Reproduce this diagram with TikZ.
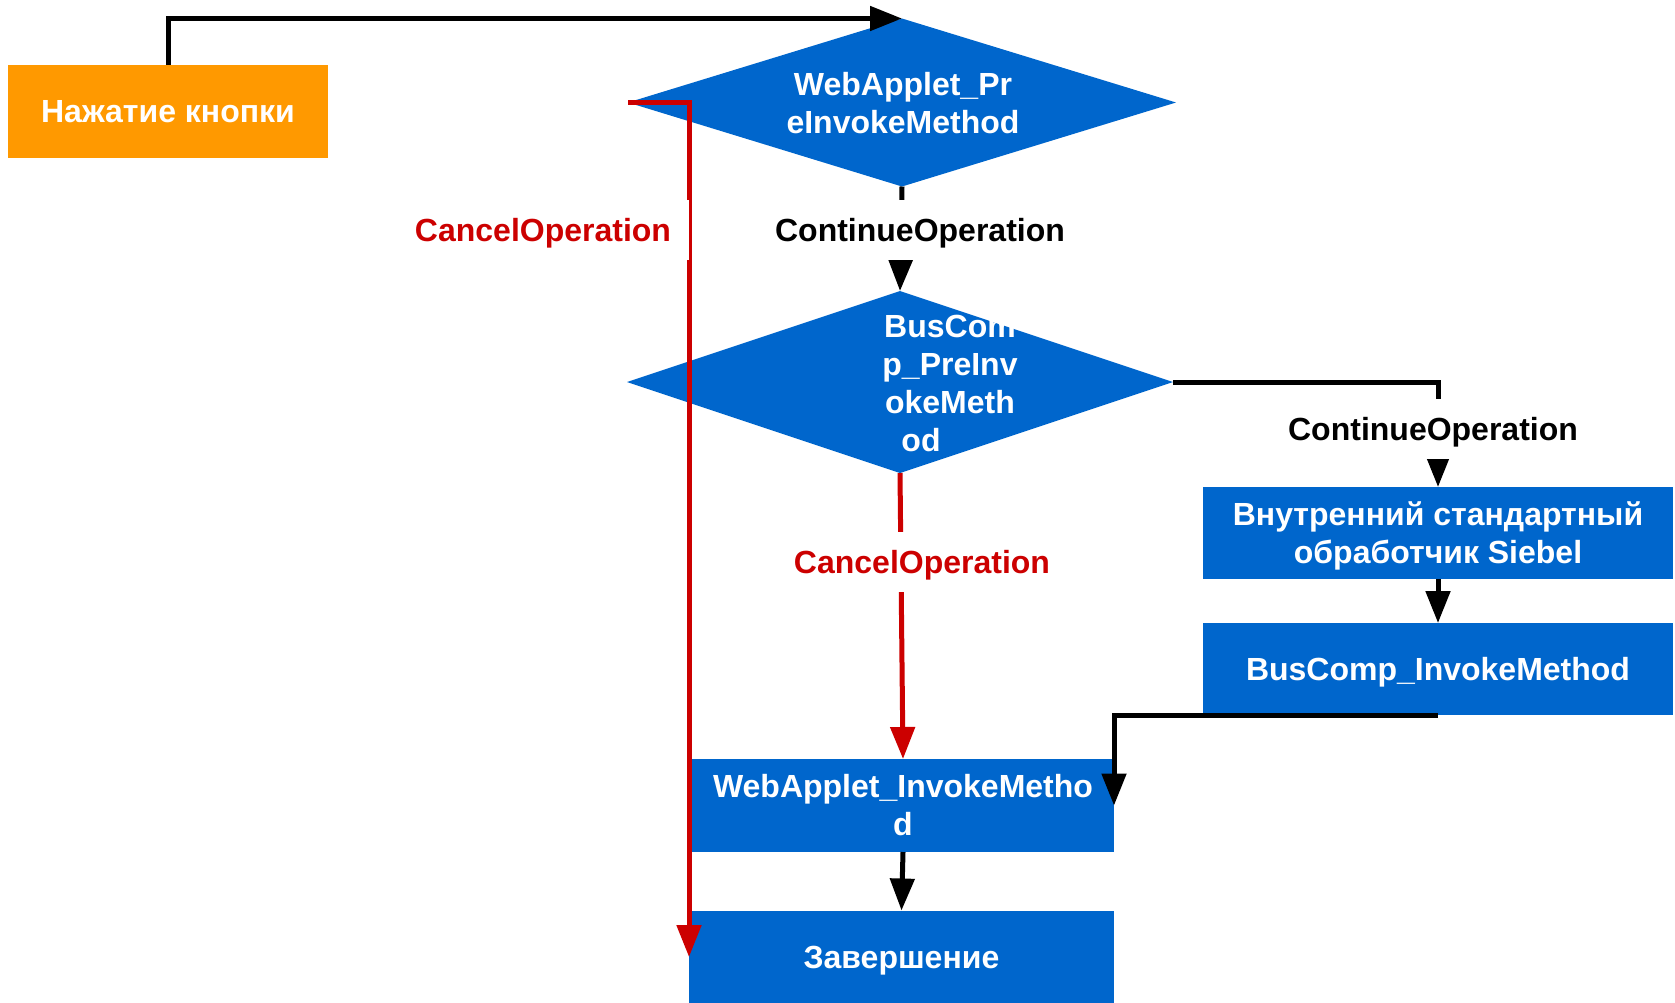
\documentclass[tikz,border=0pt]{standalone}
\usepackage{fontspec}
\setmainfont{Liberation Sans}
\usetikzlibrary{shapes.geometric,arrows.meta}
\definecolor{fblue}{HTML}{0066CC}
\definecolor{forange}{HTML}{FF9900}
\definecolor{fred}{HTML}{CC0000}
\newcommand\linestrut{\rule[-3.4pt]{0pt}{17.8pt}}
\begin{document}
\begin{tikzpicture}[x=0.5pt,y=-0.5pt,
  txt/.style={font=\bfseries\fontsize{16}{19}\selectfont},
  strutted/.style={execute at begin node=\linestrut, execute at end node=\linestrut},
  blockbox/.style={rectangle,fill=fblue,text=white,txt,align=center,inner sep=0pt,outer sep=0pt},
  decision/.style={diamond,fill=fblue,inner sep=0pt,outer sep=0pt},
  dtext/.style={text=white,txt,align=center,inner sep=0pt},
  conn/.style={line width=2.5pt,-{Triangle[width=12pt,length=16pt]}},
  lbl/.style={fill=white,txt,strutted,inner xsep=10pt,inner ysep=0pt,minimum height=30pt}
]
\useasboundingbox (0,0) rectangle (1675,1002);
% nodes
\node[blockbox,strutted,fill=forange,minimum width=160pt,minimum height=46.5pt] (start) at (168,111) {Нажатие кнопки};
\node[decision,minimum width=274pt,minimum height=84pt] (d1) at (902,102.5) {};
\node[decision,minimum width=273pt,minimum height=91pt] (d2) at (900,382) {};
\node[blockbox,minimum width=235pt,minimum height=46pt] (inner) at (1438,533) {\linestrut Внутренний стандартный\\обработчик Siebel\linestrut};
\node[blockbox,strutted,minimum width=235pt,minimum height=46pt] (bci) at (1438,669) {BusComp\_InvokeMethod};
\node[blockbox,minimum width=211pt,minimum height=46.5pt] (wim) at (903,805.5) {\linestrut WebApplet\_InvokeMetho\\d\linestrut};
\node[blockbox,strutted,minimum width=212.5pt,minimum height=46.5pt] (fin) at (901.5,957) {Завершение};
\node[dtext] (d1t) at (903,103) {WebApplet\_Pr\\eInvokeMethod};
\node[dtext] (d2t) at (950,383) {BusCom\\p\_PreInv\\okeMeth\\od\hspace*{29pt}};
% connectors
\draw[conn] (start.north) |- (d1.north);
\draw[conn] (d1.south) -- (d2.north);
\draw[conn] (d2.east) -| (inner.north);
\draw[conn] (inner.south) -- (bci.north);
\draw[conn] (bci.south) -| (wim.east);
\draw[conn] (wim.south) -- (fin.north);
\draw[conn,fred] (d2.south) -- (wim.north);
\draw[conn,fred] (d1.west) -| (fin.west);
% labels
\node[lbl] (l1) at (920,230) {ContinueOperation};
\node[lbl] (l2) at (1433,429) {ContinueOperation};
\node[lbl,text=fred] (l3) at (922,562) {CancelOperation};
\node[lbl,text=fred,inner xsep=9pt] (l4) at (543,230) {CancelOperation};
\end{tikzpicture}
\end{document}
